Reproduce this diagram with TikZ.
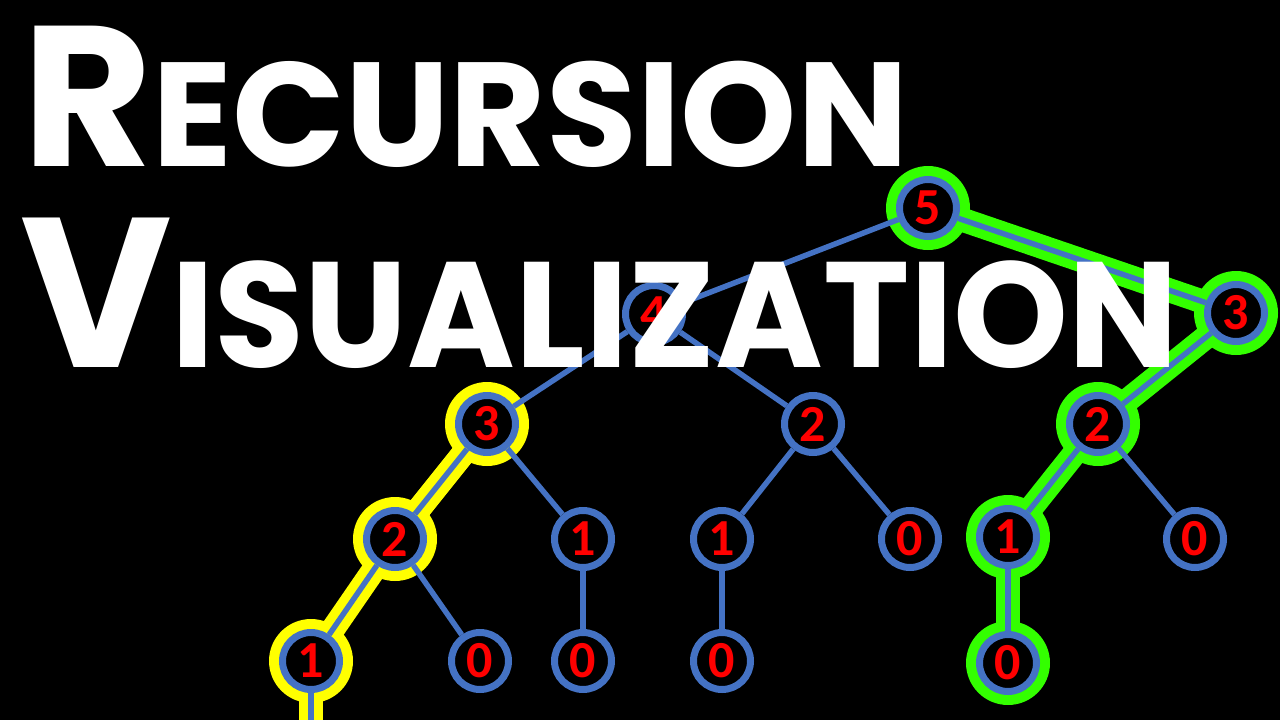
\documentclass[tikz,border=0pt]{standalone}
\usepackage{fontspec}
\newfontfamily\titlefont{Poppins}
\newfontfamily\numfont{Carlito}
\usetikzlibrary{backgrounds}
\definecolor{ringblue}{HTML}{4472C4}
\definecolor{glowgreen}{HTML}{33FF00}
\definecolor{glowyellow}{HTML}{FFFF00}
\tikzset{
  call/.style={circle, draw=ringblue, line width=7pt, fill=black, minimum size=57pt,
    inner sep=0pt, text=red, font=\numfont\bfseries\fontsize{52}{52}\selectfont},
  link/.style={draw=ringblue, line width=5.5pt},
  trail/.style={draw=#1, line width=24pt},
  halo/.style={fill=#1},
  title/.style={text=white, inner sep=0pt, anchor=base west, font=\titlefont\bfseries},
}
\begin{document}
\begin{tikzpicture}[x=1pt, y=-1pt]
  \useasboundingbox (0,0) rectangle (1280,720);

  % 调用树节点
  \node[call] (f5)  at (928,208) {5};
  \node[call] (f4)  at (654,314) {4};
  \node[call] (f3b) at (1236,313) {3};
  \node[call] (f3a) at (487,424) {3};
  \node[call] (f2b) at (813,424) {2};
  \node[call] (f2c) at (1098,424) {2};
  \node[call] (f2a) at (395,539) {2};
  \node[call] (f1b) at (583,539) {1};
  \node[call] (f1c) at (722,539) {1};
  \node[call] (f0b) at (910,539) {0};
  \node[call] (f1d) at (1008,537) {1};
  \node[call] (f0d) at (1195,539) {0};
  \node[call] (f1a) at (311,661) {1};
  \node[call] (f0a) at (480,661) {0};
  \node[call] (f0c) at (583,661) {0};
  \node[call] (f0f) at (722,661) {0};
  \node[call] (f0e) at (1008,663) {0};
  \coordinate (down) at (311,722);

  \begin{pgfonlayer}{background}
    % 背景
    \fill[black] (0,0) rectangle (1280,720);

    % 高亮路径
    \foreach \n in {f3a,f2a,f1a} \fill[halo=glowyellow] (\n) circle (42);
    \foreach \n in {f5,f3b,f2c,f1d,f0e} \fill[halo=glowgreen] (\n) circle (42);
    \draw[trail=glowyellow] (f3a) -- (f2a);
    \draw[trail=glowyellow] (f2a) -- (f1a);
    \draw[trail=glowyellow] (f1a) -- (down);
    \draw[trail=glowgreen] (f5) -- (f3b);
    \draw[trail=glowgreen] (f3b) -- (f2c);
    \draw[trail=glowgreen] (f2c) -- (f1d);
    \draw[trail=glowgreen] (f1d) -- (f0e);

    % 连线
    \draw[link] (f5) -- (f4);
    \draw[link] (f5) -- (f3b);
    \draw[link] (f4) -- (f3a);
    \draw[link] (f4) -- (f2b);
    \draw[link] (f3a) -- (f2a);
    \draw[link] (f3a) -- (f1b);
    \draw[link] (f2a) -- (f1a);
    \draw[link] (f2a) -- (f0a);
    \draw[link] (f1a) -- (down);
    \draw[link] (f1b) -- (f0c);
    \draw[link] (f2b) -- (f1c);
    \draw[link] (f2b) -- (f0b);
    \draw[link] (f1c) -- (f0f);
    \draw[link] (f3b) -- (f2c);
    \draw[link] (f2c) -- (f1d);
    \draw[link] (f2c) -- (f0d);
    \draw[link] (f1d) -- (f0e);
  \end{pgfonlayer}

  % 标题
  \node[title] (lineone) at (22,166)
    {\fontsize{200}{200}\selectfont R\fontsize{148}{148}\selectfont ECURSION};
  \node[title] (linetwo) at (20,367)
    {\scalebox{0.975}[1]{\fontsize{213}{213}\selectfont V\fontsize{150}{150}\selectfont ISUALIZATION}};
\end{tikzpicture}
\end{document}
